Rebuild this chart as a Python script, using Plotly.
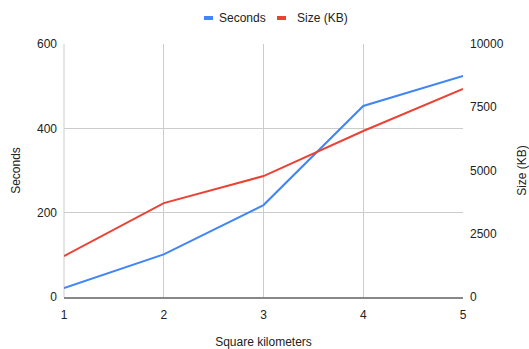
import plotly.graph_objects as go

# Area covered and the resulting processing time / output size
square_km = [1, 2, 3, 4, 5]
seconds = [21, 101, 218, 453, 524]
size_kb = [1620, 3710, 4780, 6560, 8220]

left_ticks = [0, 200, 400, 600]
right_ticks = [0, 2500, 5000, 7500, 10000]

blue = "#4285F4"
red = "#EA4335"
font = "Liberation Sans, Arial, sans-serif"
text_col = "#222222"

W, H = 529, 349
L, R, T, B = 64, 66, 44, 52

fig = go.Figure()
fig.add_trace(go.Scatter(x=square_km, y=seconds, name="Seconds", mode="lines",
                         line=dict(color=blue, width=2), yaxis="y"))
fig.add_trace(go.Scatter(x=square_km, y=size_kb, name="Size (KB)", mode="lines",
                         line=dict(color=red, width=2), yaxis="y2"))

fig.update_layout(
    width=W, height=H,
    margin=dict(l=L, r=R, t=T, b=B, autoexpand=False),
    paper_bgcolor="white", plot_bgcolor="white",
    font=dict(family=font, size=12, color=text_col),
    showlegend=False,
    xaxis=dict(
        range=[1, 5], tickvals=square_km, ticktext=[str(v) for v in square_km],
        showgrid=True, gridcolor="#CCCCCC", gridwidth=1,
        showline=True, linecolor="#888888", linewidth=2,
        zeroline=False, ticks="", ticklabelstandoff=6, automargin=False,
        tickfont=dict(size=12, color=text_col),
        title=dict(text="Square kilometers", font=dict(size=12, color=text_col), standoff=22),
    ),
    yaxis=dict(
        range=[0, 600], tickvals=left_ticks, ticktext=[str(v) for v in left_ticks],
        showgrid=True, gridcolor="#CCCCCC", gridwidth=1,
        zeroline=False, showline=False, ticks="", ticklabelstandoff=6, automargin=False,
        tickfont=dict(size=12, color=text_col),
        title=dict(text="Seconds", font=dict(size=12, color=text_col), standoff=13),
    ),
    yaxis2=dict(
        range=[0, 10000], tickvals=right_ticks, ticktext=[str(v) for v in right_ticks],
        overlaying="y", side="right",
        showgrid=False, zeroline=False, showline=False, ticks="", ticklabelstandoff=6,
        automargin=False,
        tickfont=dict(size=12, color=text_col),
        title=dict(text="Size (KB)", font=dict(size=12, color=text_col), standoff=17),
    ),
)

# Light border line at the left edge of the plot area
fig.add_shape(type="line", xref="paper", yref="paper", x0=0, x1=0, y0=0, y1=1,
              line=dict(color="#CCCCCC", width=1), layer="below")

# Compact legend above the plot: short colour bar followed by the series name
pw, ph = W - L - R, H - T - B


def px_x(px):
    return (px - L) / pw


def px_y(py):
    return (H - B - py) / ph


legend_y = 18
for trace, bar_left, text_left in [(fig.data[0], 204, 217), (fig.data[1], 277, 295)]:
    fig.add_shape(type="line", xref="paper", yref="paper",
                  x0=px_x(bar_left), x1=px_x(bar_left + 9),
                  y0=px_y(legend_y), y1=px_y(legend_y),
                  line=dict(color=trace.line.color, width=4))
    fig.add_annotation(xref="paper", yref="paper", x=px_x(text_left), y=px_y(legend_y),
                       xanchor="left", yanchor="middle", showarrow=False,
                       text=trace.name, font=dict(size=12, color=text_col))

fig.write_html("out.html")
